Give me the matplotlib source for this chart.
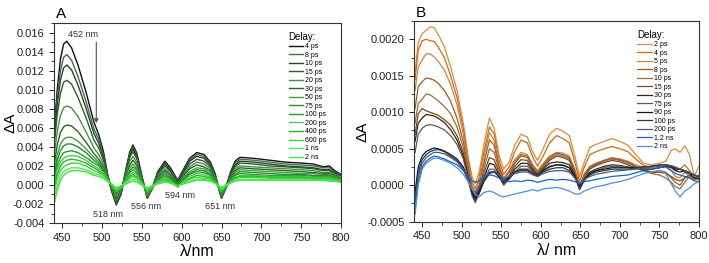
import numpy as np
import matplotlib.pyplot as plt
from matplotlib.ticker import MultipleLocator, FormatStrFormatter

plt.rcParams['font.family'] = ['Liberation Sans', 'DejaVu Sans']
plt.rcParams['axes.unicode_minus'] = False

# ---- panel A: delta A in units of 1e-3 ----
wl_a = [440, 444, 448, 452, 456, 462, 470, 480, 490, 496, 502, 507, 512,
        518, 524, 530, 535, 539, 544, 550, 557,
        563, 570, 579, 586, 595, 602, 610, 619, 628, 636, 642, 646, 650,
        655, 661, 667, 673, 690, 710, 730, 750, 765, 778, 785, 792, 800]

a_4ps = [5.5, 10.0, 13.2, 14.8, 15.1, 14.4, 12.6, 9.8, 6.6, 5.3, 3.5, 1.2, -0.6,
         -2.1, -1.0, 1.6, 3.5, 4.2, 3.3, 1.0, -1.4,
         -0.4, 1.4, 2.5, 1.8, 0.5, 1.6, 2.8, 3.4, 3.2, 2.4, 1.2, -0.2, -1.4,
         -0.4, 1.3, 2.5, 2.9, 2.8, 2.6, 2.4, 2.3, 2.2, 1.9, 2.0, 1.5, 1.1]
a_8ps = [5.0, 9.2, 12.0, 13.4, 13.7, 13.1, 11.4, 8.8, 5.9, 4.8, 3.2, 1.1, -0.5,
         -2.0, -0.9, 1.5, 3.3, 4.0, 3.1, 0.9, -1.4,
         -0.4, 1.3, 2.3, 1.6, 0.4, 1.5, 2.6, 3.2, 3.0, 2.2, 1.1, -0.2, -1.4,
         -0.4, 1.2, 2.3, 2.7, 2.6, 2.4, 2.2, 2.1, 2.0, 1.8, 1.8, 1.4, 1.0]
a_10ps = [4.6, 8.4, 11.0, 12.3, 12.6, 12.1, 10.5, 8.1, 5.4, 4.4, 2.9, 1.0, -0.5,
          -1.9, -0.9, 1.4, 3.1, 3.8, 2.9, 0.8, -1.3,
          -0.4, 1.2, 2.2, 1.5, 0.3, 1.4, 2.5, 3.0, 2.8, 2.1, 1.0, -0.2, -1.3,
          -0.4, 1.1, 2.1, 2.5, 2.4, 2.2, 2.0, 1.9, 1.8, 1.6, 1.6, 1.3, 0.9]
a_15ps = [4.0, 7.4, 9.6, 10.8, 11.0, 10.6, 9.2, 7.1, 4.7, 3.9, 2.6, 1.0, -0.4,
          -1.8, -0.8, 1.3, 2.9, 3.5, 2.7, 0.7, -1.3,
          -0.4, 1.1, 2.0, 1.4, 0.2, 1.2, 2.2, 2.7, 2.5, 1.9, 0.9, -0.2, -1.3,
          -0.4, 1.0, 1.9, 2.3, 2.2, 2.0, 1.9, 1.8, 1.7, 1.5, 1.5, 1.2, 0.9]
a_20ps = [3.0, 5.6, 7.3, 8.1, 8.3, 8.1, 7.2, 5.6, 3.9, 3.2, 2.2, 0.9, -0.3,
          -1.6, -0.7, 1.1, 2.5, 3.0, 2.3, 0.6, -1.2,
          -0.4, 0.9, 1.7, 1.2, 0.1, 1.0, 1.9, 2.4, 2.2, 1.7, 0.8, -0.2, -1.2,
          -0.4, 0.8, 1.7, 2.0, 1.9, 1.8, 1.7, 1.6, 1.5, 1.3, 1.3, 1.1, 0.8]
a_30ps = [2.0, 4.2, 5.5, 6.1, 6.3, 6.2, 5.6, 4.5, 3.3, 2.7, 1.9, 0.8, -0.2,
          -1.4, -0.6, 0.9, 2.1, 2.6, 2.0, 0.5, -1.1,
          -0.4, 0.8, 1.5, 1.0, 0.0, 0.9, 1.7, 2.1, 1.9, 1.5, 0.7, -0.2, -1.1,
          -0.4, 0.7, 1.5, 1.8, 1.7, 1.6, 1.5, 1.4, 1.3, 1.2, 1.2, 1.0, 0.7]
a_50ps = [1.2, 3.2, 4.3, 4.8, 5.0, 5.0, 4.6, 3.8, 2.9, 2.4, 1.7, 0.7, -0.1,
          -1.2, -0.5, 0.8, 1.8, 2.2, 1.7, 0.4, -1.0,
          -0.4, 0.7, 1.3, 0.8, -0.1, 0.7, 1.4, 1.8, 1.7, 1.3, 0.6, -0.2, -1.0,
          -0.3, 0.6, 1.3, 1.6, 1.5, 1.4, 1.3, 1.2, 1.2, 1.1, 1.1, 0.9, 0.7]
a_75ps = [0.8, 2.6, 3.6, 4.1, 4.3, 4.3, 4.0, 3.4, 2.6, 2.2, 1.6, 0.7, 0.0,
          -1.0, -0.4, 0.7, 1.5, 1.9, 1.5, 0.3, -0.9,
          -0.3, 0.6, 1.1, 0.7, -0.1, 0.6, 1.2, 1.6, 1.5, 1.1, 0.5, -0.2, -0.9,
          -0.3, 0.5, 1.1, 1.4, 1.3, 1.2, 1.1, 1.1, 1.0, 1.0, 1.0, 0.8, 0.6]
a_100ps = [0.3, 2.0, 2.9, 3.4, 3.5, 3.6, 3.4, 2.9, 2.3, 2.0, 1.4, 0.6, 0.0,
           -0.8, -0.3, 0.6, 1.3, 1.6, 1.2, 0.3, -0.8,
           -0.3, 0.5, 0.9, 0.6, -0.2, 0.5, 1.1, 1.4, 1.3, 1.0, 0.4, -0.2, -0.8,
           -0.3, 0.4, 1.0, 1.2, 1.1, 1.0, 1.0, 1.0, 0.9, 0.9, 0.9, 0.7, 0.5]
a_200ps = [0.0, 1.6, 2.4, 2.8, 3.0, 3.1, 3.0, 2.6, 2.0, 1.7, 1.3, 0.6, 0.0,
           -0.7, -0.3, 0.5, 1.1, 1.3, 1.0, 0.2, -0.7,
           -0.3, 0.4, 0.8, 0.5, -0.2, 0.4, 0.9, 1.2, 1.1, 0.8, 0.3, -0.2, -0.7,
           -0.2, 0.3, 0.8, 1.0, 1.0, 0.9, 0.9, 0.9, 0.8, 0.8, 0.8, 0.6, 0.5]
a_400ps = [-0.4, 1.1, 2.0, 2.4, 2.6, 2.7, 2.6, 2.3, 1.8, 1.5, 1.1, 0.5, 0.1,
           -0.6, -0.2, 0.4, 0.9, 1.1, 0.8, 0.1, -0.6,
           -0.2, 0.3, 0.6, 0.4, -0.2, 0.3, 0.7, 1.0, 0.9, 0.7, 0.3, -0.1, -0.6,
           -0.2, 0.3, 0.7, 0.9, 0.9, 0.8, 0.8, 0.8, 0.7, 0.7, 0.7, 0.5, 0.4]
a_600ps = [-0.8, 0.6, 1.5, 1.9, 2.1, 2.3, 2.3, 2.0, 1.5, 1.3, 1.0, 0.5, 0.1,
           -0.5, -0.2, 0.3, 0.7, 0.9, 0.7, 0.1, -0.5,
           -0.2, 0.2, 0.5, 0.3, -0.2, 0.3, 0.6, 0.8, 0.7, 0.6, 0.2, -0.1, -0.5,
           -0.1, 0.3, 0.6, 0.8, 0.8, 0.7, 0.7, 0.7, 0.6, 0.6, 0.6, 0.5, 0.4]
a_1ns = [-1.5, -0.1, 0.9, 1.4, 1.6, 1.8, 1.8, 1.6, 1.2, 1.1, 0.8, 0.4, 0.1,
         -0.4, -0.1, 0.2, 0.5, 0.6, 0.5, 0.1, -0.4,
         -0.1, 0.2, 0.4, 0.2, -0.1, 0.2, 0.4, 0.6, 0.6, 0.4, 0.2, -0.1, -0.4,
         -0.1, 0.2, 0.5, 0.6, 0.6, 0.6, 0.6, 0.6, 0.5, 0.5, 0.5, 0.4, 0.3]
a_2ns = [-2.0, -0.6, 0.5, 1.0, 1.3, 1.5, 1.5, 1.4, 1.0, 0.9, 0.7, 0.4, 0.1,
         -0.3, -0.1, 0.1, 0.3, 0.4, 0.3, 0.0, -0.3,
         -0.1, 0.1, 0.3, 0.2, -0.1, 0.1, 0.3, 0.5, 0.5, 0.4, 0.2, 0.0, -0.3,
         0.0, 0.2, 0.4, 0.5, 0.5, 0.5, 0.5, 0.5, 0.5, 0.5, 0.4, 0.4, 0.3]

labels_a = ['4 ps', '8 ps', '10 ps', '15 ps', '20 ps', '30 ps', '50 ps', '75 ps',
            '100 ps', '200 ps', '400 ps', '600 ps', '1 ns', '2 ns']
series_a = [a_4ps, a_8ps, a_10ps, a_15ps, a_20ps, a_30ps, a_50ps, a_75ps,
            a_100ps, a_200ps, a_400ps, a_600ps, a_1ns, a_2ns]
colors_a = ['#111111', '#4d6650', '#1f4a1f', '#2d5f2d', '#4f8a4f', '#1e6b1e', '#4a9a4a',
            '#2a8a2a', '#19a519', '#5cbf5c', '#22b822', '#3cd63c', '#66dd66', '#33ee33']

# ---- panel B: delta A in units of 1e-3 ----
wl_b = [441, 445, 450, 455, 460, 465, 470, 478, 486, 494, 502, 508, 513, 517, 522, 528,
        535, 541, 547, 553, 560, 567, 575, 583, 590, 596, 603, 611, 620, 628, 636, 643,
        649, 655, 662, 670, 680, 690, 700, 710, 720, 730, 740, 750, 758, 765, 770, 776,
        782, 788, 794, 800]

b_2ps = [1.55, 1.95, 2.08, 2.12, 2.17, 2.16, 2.07, 1.90, 1.62, 1.30, 0.85, 0.40, 0.12, 0.02, 0.18, 0.55,
         0.92, 0.78, 0.42, 0.22, 0.32, 0.55, 0.70, 0.66, 0.45, 0.34, 0.50, 0.70, 0.78, 0.74, 0.68, 0.40,
         0.12, 0.32, 0.52, 0.56, 0.60, 0.64, 0.60, 0.55, 0.42, 0.30, 0.28, 0.30, 0.33, 0.48, 0.50, 0.45,
         0.54, 0.42, 0.12, 0.26]
b_4ps = [1.45, 1.85, 1.98, 2.00, 1.98, 1.97, 1.90, 1.75, 1.50, 1.20, 0.78, 0.35, 0.05, -0.05, 0.10, 0.45,
         0.80, 0.70, 0.35, 0.15, 0.25, 0.46, 0.62, 0.58, 0.38, 0.26, 0.40, 0.58, 0.68, 0.64, 0.58, 0.32,
         0.05, 0.25, 0.42, 0.46, 0.50, 0.53, 0.50, 0.46, 0.36, 0.27, 0.25, 0.26, 0.28, 0.25, 0.20, 0.22,
         0.28, 0.20, 0.10, 0.14]
b_5ps = [1.30, 1.62, 1.72, 1.80, 1.80, 1.76, 1.70, 1.58, 1.38, 1.10, 0.70, 0.30, 0.00, -0.10, 0.05, 0.38,
         0.72, 0.62, 0.30, 0.10, 0.20, 0.35, 0.45, 0.42, 0.28, 0.20, 0.30, 0.40, 0.45, 0.44, 0.40, 0.22,
         0.00, 0.16, 0.26, 0.30, 0.34, 0.38, 0.36, 0.33, 0.28, 0.24, 0.22, 0.24, 0.26, 0.20, 0.12, 0.10,
         0.18, 0.12, 0.08, 0.12]
b_8ps = [1.05, 1.35, 1.42, 1.47, 1.46, 1.44, 1.40, 1.30, 1.15, 0.92, 0.60, 0.25, -0.05, -0.15, 0.00, 0.30,
         0.62, 0.55, 0.26, 0.08, 0.18, 0.32, 0.42, 0.40, 0.26, 0.18, 0.28, 0.38, 0.44, 0.42, 0.38, 0.20,
         -0.02, 0.14, 0.25, 0.30, 0.34, 0.37, 0.35, 0.32, 0.26, 0.22, 0.18, 0.20, 0.18, 0.10, 0.04, 0.00,
         0.10, 0.14, 0.10, 0.12]
b_10ps = [0.85, 1.12, 1.18, 1.25, 1.24, 1.20, 1.16, 1.08, 0.98, 0.80, 0.52, 0.20, -0.08, -0.18, -0.05, 0.22,
          0.50, 0.45, 0.22, 0.05, 0.14, 0.30, 0.40, 0.38, 0.24, 0.16, 0.26, 0.36, 0.42, 0.40, 0.36, 0.18,
          -0.04, 0.12, 0.24, 0.28, 0.33, 0.36, 0.34, 0.30, 0.25, 0.20, 0.16, 0.14, 0.10, 0.04, -0.02, -0.05,
          0.04, 0.12, 0.08, 0.10]
b_15ps = [0.70, 0.98, 1.05, 1.02, 1.00, 0.98, 0.96, 0.90, 0.82, 0.68, 0.45, 0.15, -0.10, -0.20, -0.08, 0.16,
          0.38, 0.35, 0.18, 0.04, 0.12, 0.26, 0.35, 0.34, 0.22, 0.15, 0.24, 0.34, 0.40, 0.38, 0.34, 0.16,
          -0.05, 0.10, 0.22, 0.27, 0.31, 0.34, 0.32, 0.28, 0.24, 0.20, 0.17, 0.18, 0.16, 0.12, 0.08, 0.06,
          0.10, 0.14, 0.10, 0.10]
b_30ps = [0.60, 0.85, 0.92, 0.97, 0.96, 0.95, 0.92, 0.86, 0.76, 0.62, 0.40, 0.12, -0.12, -0.22, -0.10, 0.10,
          0.30, 0.28, 0.14, 0.02, 0.10, 0.22, 0.30, 0.30, 0.20, 0.14, 0.22, 0.30, 0.32, 0.31, 0.28, 0.14,
          -0.06, 0.08, 0.18, 0.22, 0.26, 0.28, 0.27, 0.25, 0.23, 0.22, 0.22, 0.24, 0.26, 0.24, 0.20, 0.18,
          0.20, 0.16, 0.10, 0.08]
b_75ps = [0.45, 0.70, 0.78, 0.82, 0.83, 0.82, 0.80, 0.76, 0.68, 0.56, 0.36, 0.10, -0.14, -0.24, -0.12, 0.06,
          0.22, 0.22, 0.12, 0.00, 0.08, 0.18, 0.26, 0.26, 0.18, 0.12, 0.20, 0.26, 0.28, 0.28, 0.24, 0.12,
          -0.06, 0.06, 0.16, 0.20, 0.24, 0.26, 0.26, 0.25, 0.24, 0.24, 0.25, 0.27, 0.28, 0.26, 0.24, 0.22,
          0.20, 0.18, 0.14, 0.10]
b_90ps = [-0.10, 0.25, 0.40, 0.46, 0.49, 0.51, 0.50, 0.47, 0.42, 0.36, 0.25, 0.08, -0.10, -0.18, -0.10, 0.05,
          0.16, 0.18, 0.12, 0.04, 0.10, 0.18, 0.22, 0.22, 0.16, 0.12, 0.20, 0.25, 0.28, 0.27, 0.24, 0.12,
          -0.02, 0.08, 0.16, 0.20, 0.22, 0.24, 0.24, 0.24, 0.24, 0.25, 0.26, 0.27, 0.28, 0.26, 0.22, 0.22,
          0.20, 0.16, 0.14, 0.12]
b_100ps = [-0.20, 0.18, 0.35, 0.42, 0.46, 0.48, 0.49, 0.46, 0.40, 0.34, 0.22, 0.06, -0.08, -0.15, -0.06, 0.08,
           0.18, 0.19, 0.14, 0.06, 0.12, 0.18, 0.20, 0.20, 0.16, 0.14, 0.18, 0.22, 0.24, 0.24, 0.20, 0.10,
           0.00, 0.08, 0.14, 0.18, 0.20, 0.22, 0.22, 0.22, 0.24, 0.25, 0.26, 0.28, 0.27, 0.25, 0.24, 0.22,
           0.18, 0.16, 0.14, 0.12]
b_200ps = [-0.25, 0.12, 0.30, 0.38, 0.42, 0.45, 0.45, 0.43, 0.38, 0.32, 0.22, 0.08, -0.05, -0.10, -0.02, 0.10,
           0.17, 0.18, 0.14, 0.08, 0.12, 0.16, 0.18, 0.18, 0.14, 0.12, 0.16, 0.19, 0.20, 0.20, 0.18, 0.10,
           0.02, 0.08, 0.12, 0.15, 0.17, 0.19, 0.20, 0.21, 0.22, 0.24, 0.25, 0.26, 0.28, 0.27, 0.25, 0.22,
           0.20, 0.17, 0.14, 0.12]
b_1p2ns = [-0.35, 0.05, 0.25, 0.33, 0.37, 0.40, 0.39, 0.36, 0.32, 0.28, 0.20, 0.12, 0.06, 0.04, 0.06, 0.10,
           0.14, 0.13, 0.10, 0.06, 0.05, 0.06, 0.05, 0.07, 0.06, 0.04, 0.06, 0.08, 0.07, 0.08, 0.07, 0.05,
           0.02, 0.05, 0.06, 0.08, 0.10, 0.12, 0.13, 0.14, 0.17, 0.20, 0.22, 0.24, 0.25, 0.20, 0.16, 0.14,
           0.12, 0.10, 0.06, 0.05]
b_2ns = [-0.40, 0.00, 0.22, 0.30, 0.34, 0.37, 0.37, 0.34, 0.30, 0.24, 0.15, 0.05, -0.05, -0.12, -0.16, -0.10,
         -0.08, -0.10, -0.14, -0.16, -0.14, -0.12, -0.10, -0.08, -0.06, -0.08, -0.05, -0.04, -0.03, -0.05, -0.08, -0.12,
         -0.12, -0.08, -0.05, -0.02, 0.00, 0.03, 0.05, 0.08, 0.12, 0.16, 0.18, 0.20, 0.16, 0.02, -0.08, -0.16,
         -0.08, -0.04, 0.02, 0.05]

labels_b = ['2 ps', '4 ps', '5 ps', '8 ps', '10 ps', '15 ps', '30 ps', '75 ps',
            '90 ps', '100 ps', '200 ps', '1.2 ns', '2 ns']
series_b = [b_2ps, b_4ps, b_5ps, b_8ps, b_10ps, b_15ps, b_30ps, b_75ps,
            b_90ps, b_100ps, b_200ps, b_1p2ns, b_2ns]
colors_b = ['#e08a3a', '#d06a10', '#c8844a', '#a35a20', '#9a6a40', '#7a4a20', '#3a2410',
            '#5a5a5a', '#151520', '#2a3850', '#4a5a70', '#1a60c0', '#4a90e0']

fig = plt.figure(figsize=(7.09, 2.63), dpi=100)
axA = fig.add_axes([0.0762, 0.152, 0.405, 0.760])
axB = fig.add_axes([0.5843, 0.157, 0.4016, 0.763])

for y, c, lab in zip(series_a, colors_a, labels_a):
    axA.plot(wl_a, np.array(y) * 1e-3, color=c, lw=1.0, label=lab)
for y, c, lab in zip(series_b, colors_b, labels_b):
    axB.plot(wl_b, np.array(y) * 1e-3, color=c, lw=0.9, label=lab)

def style(ax, ylim, ymaj, ymin, fmt):
    ax.set_xlim(440, 800)
    ax.set_ylim(*ylim)
    ax.xaxis.set_major_locator(MultipleLocator(50))
    ax.xaxis.set_minor_locator(MultipleLocator(25))
    ax.yaxis.set_major_locator(MultipleLocator(ymaj))
    ax.yaxis.set_minor_locator(MultipleLocator(ymin))
    ax.yaxis.set_major_formatter(FormatStrFormatter(fmt))
    ax.tick_params(which='both', direction='out', top=False, right=False,
                   labelsize=8, colors='#222222')
    ax.tick_params(which='major', length=3.5, width=0.7)
    ax.tick_params(which='minor', length=2, width=0.6)
    for s in ax.spines.values():
        s.set_linewidth(0.8)
        s.set_color('#333333')

style(axA, (-0.004, 0.017), 0.002, 0.001, '%.3f')
style(axB, (-0.0005, 0.00225), 0.0005, 0.00025, '%.4f')

axA.set_xlabel('λ/nm', fontsize=11.5, labelpad=1)
axA.set_ylabel('ΔA', fontsize=11)
axA.yaxis.set_label_coords(-0.128, 0.5)
axB.set_xlabel('λ/ nm', fontsize=11.5, labelpad=1)
axB.set_ylabel('ΔA', fontsize=11)
axB.yaxis.set_label_coords(-0.158, 0.45)

fig.text(0.079, 0.93, 'A', fontsize=11)
fig.text(0.586, 0.937, 'B', fontsize=11)

# annotations panel A
tc = '#333333'
axA.text(476, 0.0158, '452 nm', fontsize=6.5, ha='center', va='center', color=tc)
axA.annotate('', xy=(493, 0.0062), xytext=(493, 0.0153),
             arrowprops=dict(arrowstyle='-|>', color='#555555', lw=0.8, mutation_scale=6))
axA.text(508, -0.0031, '518 nm', fontsize=6.5, ha='center', va='center', color=tc)
axA.text(556, -0.0023, '556 nm', fontsize=6.5, ha='center', va='center', color=tc)
axA.text(598, -0.0011, '594 nm', fontsize=6.5, ha='center', va='center', color=tc)
axA.text(648, -0.0023, '651 nm', fontsize=6.5, ha='center', va='center', color=tc)

legkw = dict(loc='upper left', frameon=False, fontsize=5, title='Delay:',
             title_fontsize=7, handlelength=2.1, handletextpad=0.3,
             labelspacing=0.22, borderpad=0, alignment='left')
legA = axA.legend(bbox_to_anchor=(0.805, 0.975), **legkw)
legB = axB.legend(bbox_to_anchor=(0.77, 0.975), **legkw)

fig.savefig('out.png', dpi=100)
